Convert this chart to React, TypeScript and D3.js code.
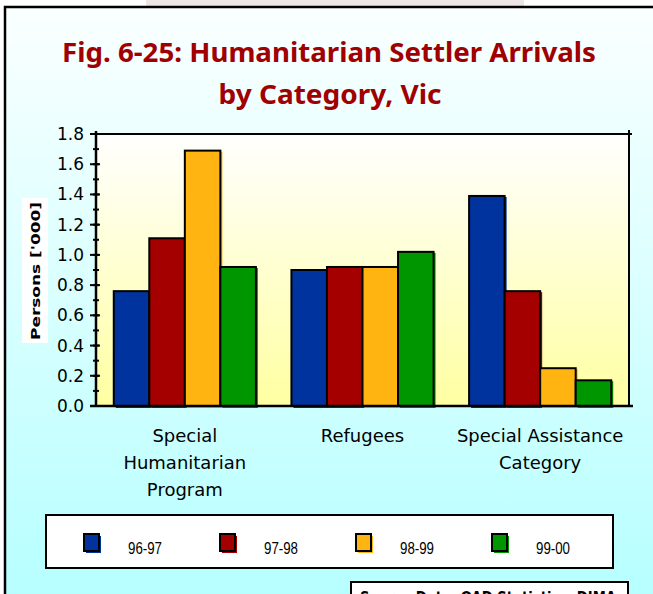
import React from 'react'
import { scaleBand, scaleLinear, range } from 'd3'

// chart data
const categories = [
  ['Special', 'Humanitarian', 'Program'],
  ['Refugees'],
  ['Special Assistance', 'Category'],
]
const seriesNames = ['96-97', '97-98', '98-99', '99-00']
const seriesColors = ['#00339E', '#A50000', '#FFB411', '#009600']
const values = [
  [0.76, 1.11, 1.69, 0.92], // Special Humanitarian Program
  [0.90, 0.92, 0.92, 1.02], // Refugees
  [1.39, 0.76, 0.25, 0.17], // Special Assistance Category
]
const yTicks = [0, 0.2, 0.4, 0.6, 0.8, 1.0, 1.2, 1.4, 1.6, 1.8]

const W = 653
const H = 594
const plot = { left: 96, right: 629, top: 134, bottom: 406 }

const App = () => {
  const x0 = scaleBand<number>()
    .domain(range(categories.length))
    .range([plot.left, plot.right])
    .paddingInner(0.2)
    .paddingOuter(0.1)
  const x1 = scaleBand<number>()
    .domain(range(seriesNames.length))
    .range([0, x0.bandwidth()])
  const y = scaleLinear().domain([0, 1.8]).range([plot.bottom, plot.top])
  const minorTicks = range(0, 1.81, 0.1)

  return (
    <svg width={W} height={H} style={{ position: 'absolute', left: 0, top: 0 }}>
      <defs>
        <linearGradient id="outerBg" x1="0" y1="0" x2="0" y2="1">
          <stop offset="0" stopColor="#FBFFFF" />
          <stop offset="1" stopColor="#B6FFFF" />
        </linearGradient>
        <linearGradient id="plotBg" x1="0" y1="0" x2="0" y2="1">
          <stop offset="0" stopColor="#FFFFFF" />
          <stop offset="1" stopColor="#FFFFA2" />
        </linearGradient>
      </defs>

      {/* page strip + outer frame */}
      <rect x={0} y={0} width={W} height={H} fill="#FFFFFF" />
      <rect x={146} y={0} width={378} height={6} fill="#EEE6E4" />
      <rect x={5} y={7} width={W} height={H} fill="url(#outerBg)" stroke="#000" strokeWidth={2.5} />

      {/* title */}
      <g fill="#A00000" fontFamily="'Noto Sans', sans-serif" fontWeight="bold" fontSize={26} textAnchor="middle">
        <text x={329} y={62} textLength={534} lengthAdjust="spacingAndGlyphs">Fig. 6-25: Humanitarian Settler Arrivals</text>
        <text x={330} y={104} textLength={223} lengthAdjust="spacingAndGlyphs">by Category, Vic</text>
      </g>

      {/* plot area */}
      <rect x={plot.left} y={plot.top} width={plot.right - plot.left} height={plot.bottom - plot.top} fill="url(#plotBg)" />
      <line x1={plot.left} x2={plot.right + 3} y1={plot.top} y2={plot.top} stroke="#000" strokeWidth={2} />
      <line x1={plot.right} x2={plot.right} y1={plot.top - 4} y2={plot.bottom} stroke="#000" strokeWidth={2} />

      {/* bars */}
      {values.map((row, ci) => (
        <g key={ci} transform={`translate(${x0(ci)},0)`}>
          {row.map((v, si) => (
            <rect key={'s' + si} x={(x1(si) as number) + 2} y={y(v) + 1} width={x1.bandwidth()} height={plot.bottom - y(v) + 1} fill={seriesColors[si]} />
          ))}
          {row.map((v, si) => (
            <rect key={'b' + si} x={x1(si)} y={y(v)} width={x1.bandwidth()} height={plot.bottom - y(v)} fill={seriesColors[si]} stroke="#000" strokeWidth={2} />
          ))}
        </g>
      ))}

      {/* axes */}
      <line x1={plot.left} x2={plot.left} y1={plot.top - 3} y2={plot.bottom + 1} stroke="#000" strokeWidth={2.5} />
      <line x1={plot.left - 6} x2={plot.right + 4} y1={plot.bottom} y2={plot.bottom} stroke="#000" strokeWidth={2.5} />
      {minorTicks.map((t, i) => (
        <line key={'m' + i} x1={plot.left - 3} x2={plot.left + 3} y1={y(t)} y2={y(t)} stroke="#000" strokeWidth={2} />
      ))}
      {yTicks.map((t) => (
        <g key={t}>
          <line x1={plot.left - 6} x2={plot.left + 4} y1={y(t)} y2={y(t)} stroke="#000" strokeWidth={2} />
          <text x={84} y={y(t) + 6} textAnchor="end" fontFamily="'DejaVu Sans', sans-serif" fontSize={17} fill="#000">
            {t.toFixed(1)}
          </text>
        </g>
      ))}

      {/* y axis title */}
      <rect x={22} y={198} width={26} height={145} fill="#FFFFFF" />
      <text transform="translate(40,340) rotate(-90)" fontFamily="'DejaVu Sans', sans-serif" fontWeight="bold" fontSize={13} fill="#000" textLength={138} lengthAdjust="spacingAndGlyphs">
        Persons  ['000]
      </text>

      {/* category labels */}
      {categories.map((lines, ci) => (
        <text key={ci} textAnchor="middle" fontFamily="'DejaVu Sans', sans-serif" fontSize={18} fill="#000">
          {lines.map((l, li) => (
            <tspan key={li} x={(x0(ci) as number) + x0.bandwidth() / 2} y={442 + li * 27}>{l}</tspan>
          ))}
        </text>
      ))}

      {/* legend */}
      <rect x={46} y={515} width={567} height={53} fill="#FFFFFF" stroke="#000" strokeWidth={2} />
      {seriesNames.map((s, i) => {
        const lx = 84 + i * 136
        return (
          <g key={s}>
            <rect x={lx + 2} y={536} width={15} height={17} fill={seriesColors[i]} />
            <rect x={lx} y={534} width={15} height={17} fill={seriesColors[i]} stroke="#000" strokeWidth={2} />
            <text x={lx + 44} y={554} fontFamily="'Liberation Sans', Arial, sans-serif" fontSize={16} fill="#000" textLength={34} lengthAdjust="spacingAndGlyphs">
              {s}
            </text>
          </g>
        )
      })}

      {/* source box, cut off by the frame */}
      <rect x={351} y={582} width={277} height={30} fill="#FFFFFF" stroke="#000" strokeWidth={2} />
      <text x={360} y={603} fontFamily="'DejaVu Sans', sans-serif" fontWeight="bold" fontSize={15} fill="#000" textLength={256} lengthAdjust="spacingAndGlyphs">
        Source Data: OAD Statistics, DIMA
      </text>
    </svg>
  )
}

export default App
